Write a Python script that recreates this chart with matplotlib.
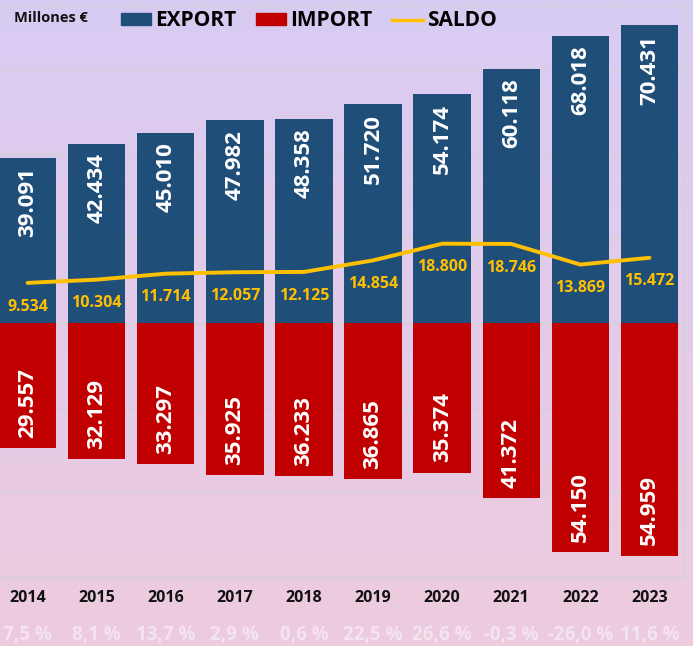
import matplotlib.pyplot as plt
import numpy as np
from matplotlib.lines import Line2D
from matplotlib.patches import Patch

years = ['2014', '2015', '2016', '2017', '2018', '2019', '2020', '2021', '2022', '2023']
export = [39091, 42434, 45010, 47982, 48358, 51720, 54174, 60118, 68018, 70431]
imports = [29557, 32129, 33297, 35925, 36233, 36865, 35374, 41372, 54150, 54959]
saldo = [9534, 10304, 11714, 12057, 12125, 14854, 18800, 18746, 13869, 15472]
growth = ['7,5 %', '8,1 %', '13,7 %', '2,9 %', '0,6 %', '22,5 %', '26,6 %', '-0,3 %', '-26,0 %', '11,6 %']

def fmt(v):
    return f'{v:,}'.replace(',', '.')

plt.rcParams['font.family'] = ['Open Sans', 'DejaVu Sans']

fig = plt.figure(figsize=(6.93, 6.46), dpi=100)

# fondo degradado lila -> rosa
bg = fig.add_axes([0, 0, 1, 1], zorder=-10)
top_c = np.array([216, 204, 243]) / 255
bot_c = np.array([238, 203, 222]) / 255
t = np.linspace(0, 1, 256)[:, None]
grad = top_c * (1 - t) + bot_c * t
bg.imshow(grad[:, None, :], aspect='auto', extent=[0, 1, 0, 1])
bg.axis('off')

ax = fig.add_axes([-7 / 693, 69 / 646, 691 / 693, 571 / 646])
ax.set_facecolor('none')

x = np.arange(len(years))
w = 0.83
blue = '#1F4E79'
red = '#C00000'
gold = '#FFC000'

ax.bar(x, export, width=w, color=blue, zorder=3)
ax.bar(x, [-v for v in imports], width=w, color=red, zorder=3)
ax.plot(x, saldo, color=gold, lw=2.8, zorder=4, solid_capstyle='round')

for xi, v in zip(x, export):
    ax.annotate(fmt(v), (xi, v), xytext=(0, -7), textcoords='offset points',
                rotation=90, ha='center', va='top', color='white',
                fontsize=16, fontweight='bold', zorder=5)
for xi, v in zip(x, imports):
    ax.annotate(fmt(v), (xi, -v), xytext=(0, 7.5), textcoords='offset points',
                rotation=90, ha='center', va='bottom', color='white',
                fontsize=16, fontweight='bold', zorder=5)
for xi, v in zip(x, saldo):
    ax.annotate(fmt(v), (xi, v), xytext=(0, -17), textcoords='offset points',
                ha='center', va='center', color=gold,
                fontsize=11.5, fontweight='bold', zorder=5)

ax.set_xlim(-0.5, len(years) - 0.5)
ax.set_ylim(-60000, 75000)
ax.set_yticks(np.arange(-60000, 75000, 20000))
ax.yaxis.grid(True, color='#D3D0D8', lw=0.9, zorder=0)
ax.tick_params(axis='y', left=False, labelleft=False)
ax.set_xticks(np.arange(-0.5, len(years), 1))
ax.tick_params(axis='x', bottom=False, labelbottom=False, top=True,
               direction='out', length=4, color='#D3D0D8')
for s in ax.spines.values():
    s.set_color('#D3D0D8')
    s.set_linewidth(0.9)

tr = ax.get_xaxis_transform()
for xi, yr, g in zip(x, years, growth):
    ax.text(xi, -0.037, yr, transform=tr, ha='center', va='center',
            fontsize=11.5, fontweight='bold', color='#111111')
    ax.text(xi, -0.102, g, transform=tr, ha='center', va='center',
            fontsize=13.5, fontweight='bold', color='#F4E4EF')

fig.text(14 / 693, 1 - 18 / 646, 'Millones €', ha='left', va='center',
         fontsize=10.5, fontweight='bold', color='#111111')

handles = [Patch(color=blue), Patch(color=red), Line2D([0], [0], color=gold, lw=2.5)]
fig.legend(handles, ['EXPORT', 'IMPORT', 'SALDO'], ncol=3, frameon=False,
           loc='center left', bbox_to_anchor=(102 / 693, 1 - 21 / 646),
           prop={'weight': 'bold', 'size': 15}, handlelength=1.45,
           handleheight=0.5, handletextpad=0.2, columnspacing=0.95)

fig.savefig('out.png', dpi=100)
